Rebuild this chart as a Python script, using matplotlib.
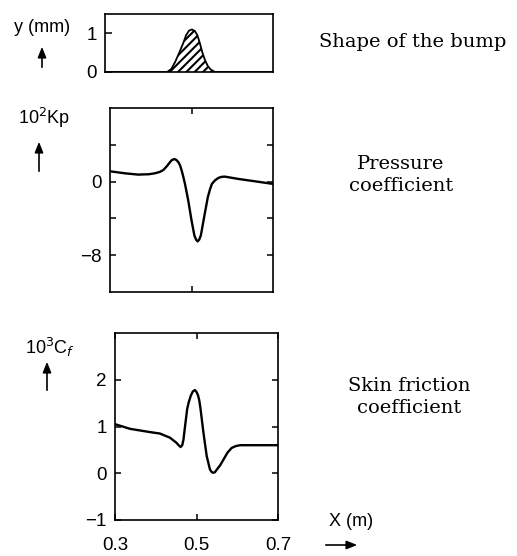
import matplotlib
matplotlib.use("Agg")
import matplotlib.pyplot as plt
from matplotlib.patches import FancyArrowPatch

# ---- data ----
bump_x = [0.30, 0.440, 0.448, 0.458, 0.467, 0.476, 0.486, 0.493, 0.500, 0.507,
          0.514, 0.520, 0.526, 0.532, 0.538, 0.545, 0.552, 0.562, 0.70]
bump_y = [0.0, 0.0, 0.0, 0.08, 0.26, 0.48, 0.74, 0.95, 1.07, 1.10,
          1.06, 0.95, 0.74, 0.50, 0.31, 0.15, 0.06, 0.0, 0.0]

kp_x = [0.300, 0.337, 0.369, 0.395, 0.410, 0.422, 0.431, 0.440, 0.447, 0.452,
        0.458, 0.463, 0.468, 0.472, 0.476, 0.480, 0.484, 0.492, 0.500, 0.507,
        0.511, 0.515, 0.519, 0.523, 0.531, 0.540, 0.545, 0.550, 0.558, 0.566,
        0.574, 0.582, 0.615, 0.656, 0.700]
kp_y = [1.12, 0.90, 0.76, 0.80, 0.90, 1.05, 1.26, 1.70, 2.10, 2.35,
        2.45, 2.35, 2.10, 1.75, 1.19, 0.50, -0.25, -2.05, -4.20, -5.84,
        -6.30, -6.50, -6.30, -5.84, -3.86, -1.70, -0.90, -0.25, 0.15, 0.40,
        0.52, 0.54, 0.29, 0.03, -0.25]

cf_x = [0.300, 0.337, 0.386, 0.410, 0.435, 0.451, 0.456, 0.461, 0.465, 0.468,
        0.472, 0.477, 0.481, 0.486, 0.491, 0.496, 0.500, 0.504, 0.507, 0.510,
        0.517, 0.525, 0.533, 0.537, 0.540, 0.545, 0.550, 0.558, 0.566, 0.576,
        0.586, 0.596, 0.607, 0.700]
cf_y = [1.05, 0.95, 0.88, 0.85, 0.76, 0.65, 0.60, 0.56, 0.60, 0.72,
        1.01, 1.37, 1.52, 1.66, 1.75, 1.78, 1.74, 1.66, 1.55, 1.37,
        0.87, 0.37, 0.08, 0.03, 0.01, 0.02, 0.08, 0.17, 0.29, 0.44,
        0.54, 0.58, 0.60, 0.60]

x_ticks = [0.3, 0.5, 0.7]
x_tick_labels = ["0.3", "0.5", "0.7"]

W, H = 517, 556
fig = plt.figure(figsize=(W / 100, H / 100), dpi=100)
plt.rcParams['hatch.linewidth'] = 1.5

SANS = "Liberation Sans"
SERIF = "DejaVu Serif"
tick_fs = 13.5


def ax_rect(l, r, t, b):
    return [l / W, 1 - b / H, (r - l) / W, (b - t) / H]


def style(ax):
    for s in ax.spines.values():
        s.set_linewidth(1.2)
    ax.tick_params(direction='in', length=4, width=1.1, labelsize=tick_fs,
                   pad=6)
    for lab in ax.get_xticklabels() + ax.get_yticklabels():
        lab.set_fontfamily(SANS)


line_kw = dict(color='black', solid_joinstyle='round', solid_capstyle='round')

# ---- top panel: bump shape ----
ax1 = fig.add_axes(ax_rect(105, 273, 14, 72))
ax1.fill_between(bump_x, 0, bump_y, facecolor='white', edgecolor='black',
                 hatch='////', linewidth=0)
ax1.plot(bump_x, bump_y, lw=1.3, **line_kw)
ax1.set_xlim(0.3, 0.7)
ax1.set_ylim(0, 1.5)
ax1.set_xticks([])
ax1.set_yticks([0, 1])
ax1.set_yticklabels(["0", "1"])
style(ax1)
ax1.tick_params(axis='y', length=5)

# ---- middle panel: pressure coefficient ----
ax2 = fig.add_axes(ax_rect(110, 273, 108, 292))
ax2.plot(kp_x, kp_y, lw=1.7, **line_kw)
ax2.set_xlim(0.3, 0.7)
ax2.set_ylim(-12, 8)
ax2.set_yticks([-8, -4, 0, 4])
ax2.set_yticklabels(["\u22128", "", "0", ""])
ax2.set_xticks([0.5])
ax2.set_xticklabels([])
style(ax2)
ax2.tick_params(right=True, top=True)

# ---- bottom panel: skin friction coefficient ----
ax3 = fig.add_axes(ax_rect(115, 278, 333, 520))
ax3.plot(cf_x, cf_y, lw=1.7, **line_kw)
ax3.set_xlim(0.3, 0.7)
ax3.set_ylim(-1, 3)
ax3.set_yticks([-1, 0, 1, 2])
ax3.set_yticklabels(["\u22121", "0", "1", "2"])
ax3.set_xticks(x_ticks)
ax3.set_xticklabels(x_tick_labels)
style(ax3)
ax3.tick_params(right=True, top=True)
ax3.tick_params(axis='x', pad=12)


# ---- labels ----
def fx(px):
    return px / W


def fy(py):
    return 1 - py / H


fig.text(fx(42), fy(28), "y (mm)", fontsize=13, family=SANS,
         ha='center', va='center')
fig.text(fx(44), fy(118), r"10$^{2}$Kp", fontsize=13, family=SANS,
         ha='center', va='center')
fig.text(fx(50), fy(347), r"10$^{3}$C$_{f}$", fontsize=13, family=SANS,
         ha='center', va='center')
fig.text(fx(351), fy(521), "X (m)", fontsize=13, family=SANS,
         ha='center', va='center')

arrow_kw = dict(arrowstyle='-|>,head_length=0.45,head_width=0.18',
                color='black', lw=1.2)
for (x0, y0), (x1, y1) in [((42, 70), (42, 44)), ((39, 174), (39, 139)),
                           ((47, 393), (47, 359)), ((323, 545), (360, 545))]:
    fig.add_artist(FancyArrowPatch((fx(x0), fy(y0)), (fx(x1), fy(y1)),
                                   transform=fig.transFigure,
                                   mutation_scale=14, **arrow_kw))

fig.text(fx(413), fy(42), "Shape of the bump", fontsize=14, family=SERIF,
         ha='center', va='center')
fig.text(fx(401), fy(175), "Pressure\ncoefficient", fontsize=14,
         family=SERIF, ha='center', va='center', linespacing=1.25)
fig.text(fx(409), fy(397), "Skin friction\ncoefficient", fontsize=14,
         family=SERIF, ha='center', va='center', linespacing=1.25)

fig.savefig("out.png", dpi=100, facecolor='white')
